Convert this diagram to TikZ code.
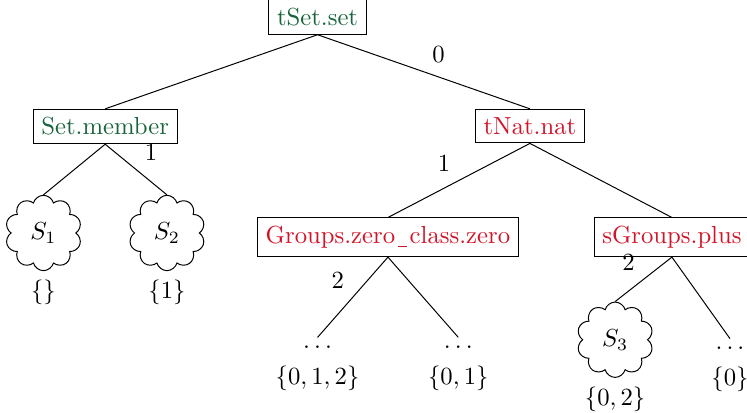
\documentclass[tikz,border=0pt]{standalone}
\usepackage{amsmath}
\usepackage{tikz}
\usetikzlibrary{shapes.symbols, positioning}
\usepackage{xcolor}
\definecolor{defgreen}{RGB}{25,100,60}
\definecolor{instred}{RGB}{210,20,40}
\newcommand{\usc}{\kern.12em\rule[-1.2pt]{.35em}{.4pt}\kern.12em}
\tikzstyle{fun}  = [rectangle, draw=black, inner sep=3.33pt]
\tikzstyle{defn} = [fun, text=defgreen]
\tikzstyle{inst} = [fun, text=instred]
\tikzstyle{hole} = [cloud, draw, cloud puffs=10, minimum width=31pt, minimum height=30.5pt, inner sep=0pt]
\tikzstyle{more} = [inner sep=3.33pt]
\tikzstyle{edge} = [thin]

\begin{document}
\begin{tikzpicture}[every label/.style={inner sep=3.33pt}]
  \useasboundingbox (-128.6pt,6.9pt) rectangle (173.9pt,-160pt);

  % Function nodes
  \node[defn] (root) at (0,0) {tSet.set};
  \node[defn, below=30pt of root, xshift=-86pt] (member) {Set.member};
  \node[inst, below=30pt of root, xshift=86pt] (nat) {tNat.nat};
  \node[inst, below=30pt of nat, xshift=-57.5pt] (zero) {Groups.zero\usc class.zero};
  \node[inst, below=30pt of nat, xshift=57.5pt] (plus) {sGroups.plus};

  % Holes and elided subtrees
  \node[hole, below=20.5pt of member, xshift=-25pt, label={below:$\{\}$}] (s1) {$S_1$};
  \node[hole, below=20.5pt of member, xshift=25pt, label={below:$\{1\}$}] (s2) {$S_2$};
  \node[more, below=32.5pt of zero, xshift=-28.5pt, label={below:$\{0,1,2\}$}] (z1) {$\ldots$};
  \node[more, below=32.5pt of zero, xshift=28.5pt, label={below:$\{0,1\}$}] (z2) {$\ldots$};
  \node[hole, below=18pt of plus, xshift=-23pt, label={below:$\{0,2\}$}] (s3) {$S_3$};
  \node[more, below=33pt of plus, xshift=23.5pt, label={below:$\{0\}$}] (p2) {$\ldots$};

  % Edges
  \draw[edge] (root.south) -- (member.north);
  \draw[edge] (root.south) -- node[midway, above right]{0} (nat.north);
  \draw[edge] (member.south) -- (s1.north);
  \draw[edge] (member.south) -- node[midway, above right]{1} (s2.north);
  \draw[edge] (nat.south) -- node[midway, above left]{1} (zero.north);
  \draw[edge] (nat.south) -- (plus.north);
  \draw[edge] (zero.south) -- node[midway, above left]{2} (z1.north);
  \draw[edge] (zero.south) -- (z2.north);
  \draw[edge] (plus.south) -- node[midway, above left]{2} (s3.north);
  \draw[edge] (plus.south) -- (p2.north);
\end{tikzpicture}
\end{document}
